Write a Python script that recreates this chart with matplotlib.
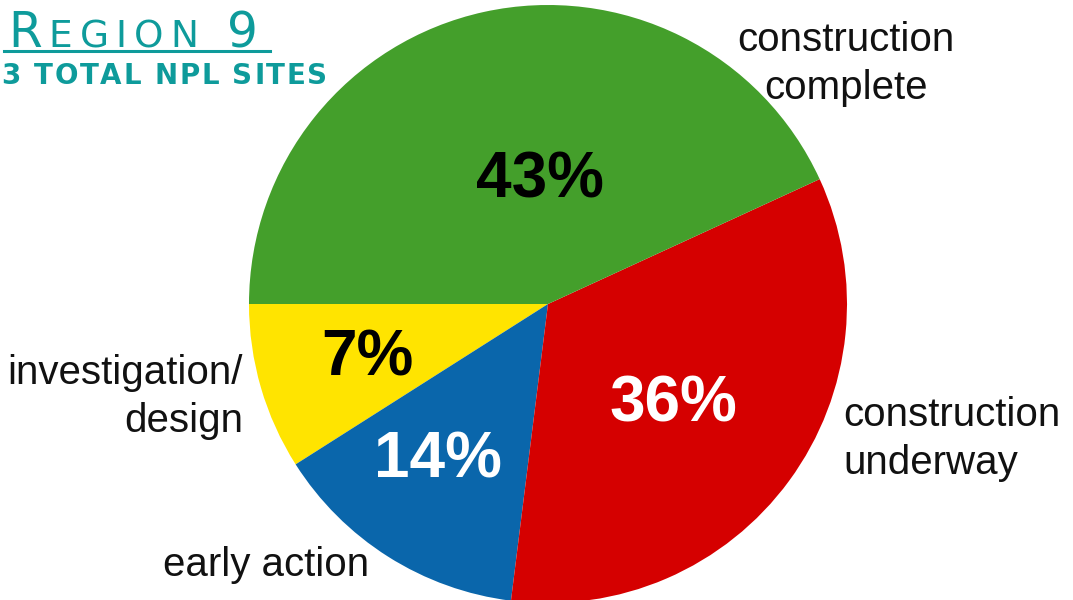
import matplotlib
matplotlib.use('Agg')
import matplotlib.pyplot as plt
from matplotlib.lines import Line2D

# Wedge sizes as drawn (counter-clockwise from the 9 o'clock position)
categories = ['investigation/\ndesign', 'early action', 'construction\nunderway', 'construction\ncomplete']
wedge_sizes = [9.0, 14.0, 33.8, 43.1]
pct_labels = ['7%', '14%', '36%', '43%']
colors = ['#FFE400', '#0A66AB', '#D50000', '#449F2B']
pct_colors = ['black', 'white', 'white', 'black']

title_parts = ['R', 'EGION', ' 9']
subtitle = '3 TOTAL NPL SITES'
teal = '#0E9B9B'

W, H = 1073, 600
fig = plt.figure(figsize=(W / 100, H / 100), dpi=100)
ax = fig.add_axes([0, 0, 1, 1])

# pixel -> data mapping: pie centre at (548, 304) px, radius 299 px
cx, cy, r = 548, 304, 299
def px(x, y):
    return (x - cx) / r, (cy - y) / r

wedges, _ = ax.pie(wedge_sizes, colors=colors, startangle=180, counterclock=True,
                   radius=1.0, wedgeprops=dict(linewidth=0))
ax.set_aspect('auto')
ax.set_xlim((0 - cx) / r, (W - cx) / r)
ax.set_ylim((cy - H) / r, cy / r)
ax.axis('off')

# percentage labels inside wedges
pct_pos = [(367, 358), (438, 460), (673, 404), (540, 180)]
for lab, c, (x, y) in zip(pct_labels, pct_colors, pct_pos):
    ax.text(*px(x, y), lab, ha='center', va='center', fontsize=46, fontweight='bold',
            color=c, family='Liberation Sans')

# category labels outside
cat_pos = [(243, 397, 'right'), (266, 565, 'center'), (843, 439, 'left'), (846, 64, 'center')]
for lab, (x, y, ha) in zip(categories, cat_pos):
    ax.text(*px(x, y), lab, ha=ha, va='center', fontsize=29, color='#111111',
            family='Liberation Sans', linespacing=1.32)

renderer = fig.canvas.get_renderer()

# letter-spaced text placed one character at a time (pixel coords, baseline)
def spaced(x, y, s, size, track, **kw):
    for ch in s:
        t = fig.text(x / W, 1 - y / H, ch, fontsize=size, color=teal, va='baseline',
                     family='DejaVu Sans', **kw)
        x += t.get_window_extent(renderer).width + track
    return x

# small caps title
x = 8
for part, size in zip(title_parts, [35, 27, 35]):
    x = spaced(x, 47, part, size, 7)
fig.add_artist(Line2D([4 / W, 270 / W], [1 - 51 / H, 1 - 51 / H], color=teal, linewidth=2.2))

spaced(1, 84, subtitle, 20, 1.8, fontweight='bold')

fig.savefig('out.png', dpi=100)
